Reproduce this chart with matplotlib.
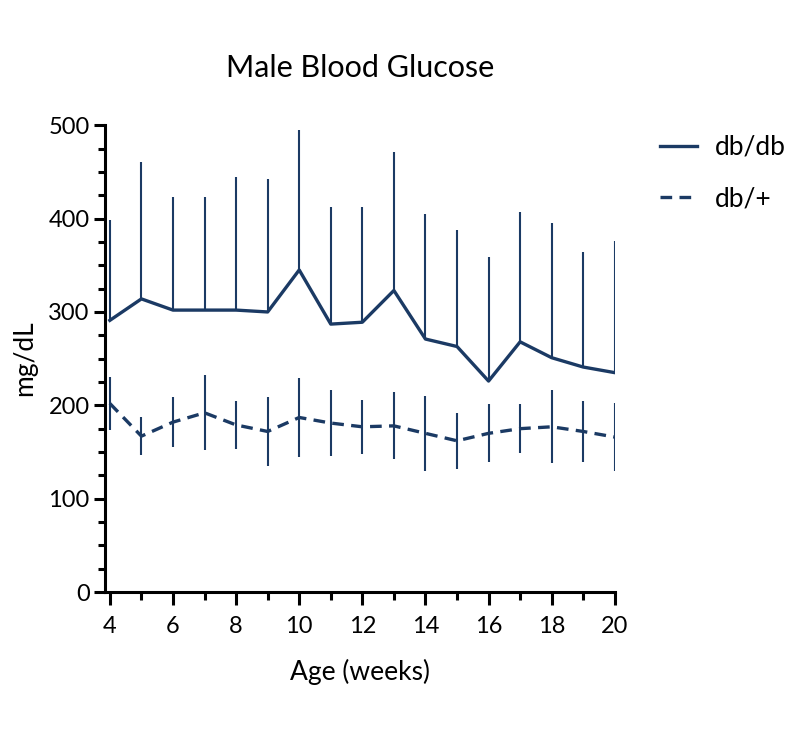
import numpy as np
import matplotlib.pyplot as plt
from matplotlib.ticker import MultipleLocator

plt.rcParams['font.family'] = ['Lato', 'DejaVu Sans']

weeks = np.arange(4, 21)
dbdb_mean = [291, 314, 302, 302, 302, 300, 345, 287, 289, 323, 271, 263, 226, 268, 251, 241, 235]
dbdb_upper = [399, 461, 423, 423, 445, 442, 495, 412, 412, 471, 405, 388, 359, 407, 395, 364, 376]
dbhet_mean = [202, 167, 182, 192, 179, 172, 187, 181, 177, 178, 170, 162, 170, 175, 177, 172, 166]
dbhet_err = [28, 20, 27, 40, 26, 37, 42, 35, 29, 36, 40, 30, 31, 26, 39, 33, 36]

color = '#1b3a64'

fig = plt.figure(figsize=(8, 7.41), dpi=100)
ax = fig.add_axes([0.131, 0.201, 0.6375, 0.630])

err_up = np.array(dbdb_upper) - np.array(dbdb_mean)
ax.errorbar(weeks, dbdb_mean, yerr=[np.zeros_like(err_up), err_up], color=color,
            lw=2.4, elinewidth=1.5, capsize=0, label='db/db')
ax.errorbar(weeks, dbhet_mean, yerr=dbhet_err, color=color, lw=2.4, ls=(0, (3.5, 2.2)),
            elinewidth=1.5, capsize=0, label='db/+')

ax.set_xlim(3.84, 20)
ax.set_ylim(0, 500)
ax.set_xticks(range(4, 21, 2))
ax.xaxis.set_minor_locator(MultipleLocator(1))
ax.set_yticks(range(0, 501, 100))
ax.yaxis.set_minor_locator(MultipleLocator(25))

for s in ['top', 'right']:
    ax.spines[s].set_visible(False)
for s in ['left', 'bottom']:
    ax.spines[s].set_linewidth(2.2)
ax.tick_params(which='major', length=8, width=2.2, labelsize=17)
ax.tick_params(which='minor', length=5, width=2.2)
ax.tick_params(axis='x', which='major', length=9, pad=8)
ax.tick_params(axis='x', which='minor', length=6)
ax.tick_params(axis='y', which='major', pad=3)

ax.set_xlabel('Age (weeks)', fontsize=19, labelpad=16)
ax.set_ylabel('mg/dL', fontsize=19, labelpad=8)
ax.set_title('Male Blood Glucose', fontsize=22, pad=35)

h, l = ax.get_legend_handles_labels()
h = [hh[0] for hh in h]
fig.legend(h, l, loc='upper left', bbox_to_anchor=(0.795, 0.85), frameon=False,
           fontsize=19, handlelength=1.4, handletextpad=0.7, labelspacing=1.0)

plt.savefig('out.png', dpi=100)
plt.close()
